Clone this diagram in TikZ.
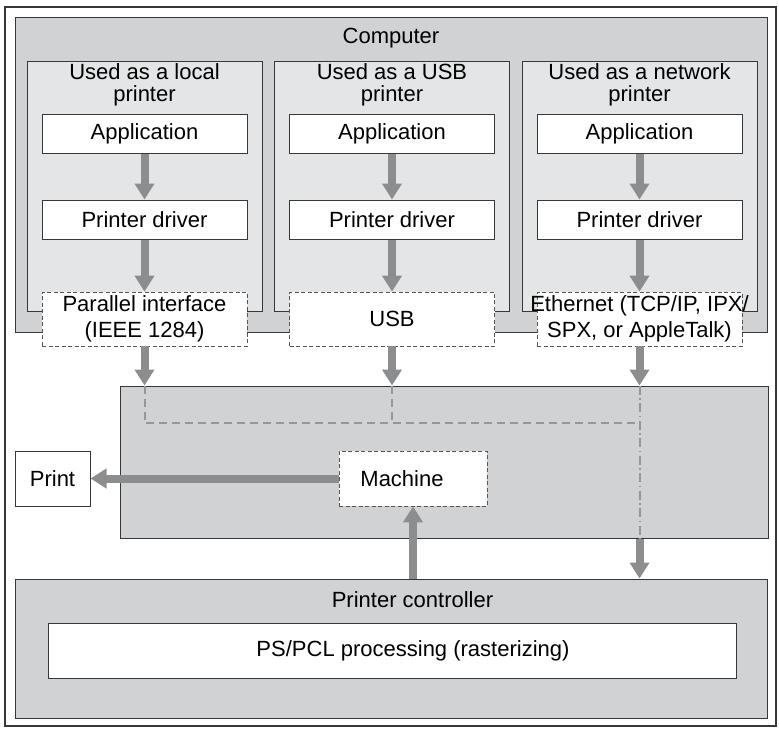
\documentclass[tikz,border=0pt]{standalone}
\usepackage{fontspec}
\setmainfont{Liberation Sans}
\usepackage{xcolor}
\usetikzlibrary{arrows.meta}
\definecolor{paneGray}{RGB}{209,210,212}
\definecolor{colGray}{RGB}{228,229,230}
\definecolor{flowGray}{RGB}{140,141,143}
\definecolor{edgeGray}{RGB}{55,55,55}
\definecolor{busGray}{RGB}{150,151,153}

\begin{document}
\begin{tikzpicture}[x=1pt, y=-1pt,
    font=\fontsize{22}{26}\selectfont,
    pane/.style={draw=edgeGray, line width=1pt, fill=paneGray, rectangle, inner sep=0pt},
    colpane/.style={draw=edgeGray, line width=1pt, fill=colGray, rectangle, inner sep=0pt, minimum width=235pt, minimum height=250pt},
    coltitle/.style={anchor=north, inner sep=0pt, align=center, font=\fontsize{22}{22}\selectfont},
    whitebox/.style={draw=edgeGray, line width=1pt, fill=white, rectangle, inner sep=0pt, minimum width=205pt, minimum height=39pt},
    ifacebox/.style={draw=edgeGray!85, line width=0.8pt, dash pattern=on 4pt off 2.5pt, fill=white, rectangle, inner sep=0pt, inner xsep=-10pt, minimum width=205pt, minimum height=54pt, align=center},
    flow/.style={draw=flowGray, line width=8pt, -{Triangle[length=16pt, width=19pt]}},
    bus/.style={draw=busGray, line width=2pt, dash pattern=on 8pt off 5pt},
    busdot/.style={draw=busGray, line width=2pt, dash pattern=on 9pt off 3.5pt on 1.5pt off 3.5pt}]
  \useasboundingbox (0,0) rectangle (779,729);

  % Outer frame
  \node[draw=edgeGray, line width=1.2pt, rectangle, inner sep=0pt, minimum width=771pt, minimum height=719pt] (frame) at (390.5,366.5) {};

  % Computer with its three ways of use
  \node[pane, minimum width=752pt, minimum height=315pt] (computer) at (391,174.5) {};
  \node (computerlabel) at (391,38) {Computer};

  \node[colpane] (localcol) at (144.5,186) {};
  \node[colpane] (usbcol) at (392,186) {};
  \node[colpane] (netcol) at (639.5,186) {};

  \node[coltitle] (localtitle) at (144.5,63) {Used as a local\\printer};
  \node[coltitle] (usbtitle) at (392,63) {Used as a USB\\printer};
  \node[coltitle] (nettitle) at (639.5,63) {Used as a network\\printer};

  % Application level
  \node[whitebox] (localapp) at (144.5,133.5) {Application};
  \node[whitebox] (usbapp) at (392,133.5) {Application};
  \node[whitebox] (netapp) at (639.5,133.5) {Application};

  % Driver level
  \node[whitebox] (localdrv) at (144.5,219.5) {Printer driver};
  \node[whitebox] (usbdrv) at (392,219.5) {Printer driver};
  \node[whitebox] (netdrv) at (639.5,219.5) {Printer driver};

  % Interfaces
  \node[ifacebox] (localif) at (144.5,319) {Parallel interface\\(IEEE 1284)};
  \node[ifacebox] (usbif) at (392,319) {USB};
  \node[ifacebox] (netif) at (639.5,319) {Ethernet (TCP/IP, IPX/\\SPX, or AppleTalk)};

  % Machine side
  \node[pane, minimum width=648pt, minimum height=152pt] (device) at (444,462) {};
  \coordinate (busline) at (0,423);
  \draw[bus] (localif |- device.north) -- (localif |- busline) -- (netif |- busline);
  \draw[bus] (usbif |- device.north) -- (usbif |- busline);
  \draw[busdot] (netif |- device.north) -- (netif |- device.south);
  \node[ifacebox, inner xsep=0pt, minimum width=148pt, minimum height=55pt] (machine) at (413,478.5) {Machine\hspace*{22pt}};
  \node[whitebox, minimum width=75pt, minimum height=55pt] (print) at (52.5,478.5) {Print};

  % Printer controller
  \node[pane, minimum width=752pt, minimum height=139pt] (controller) at (391,648.5) {};
  \node (controllerlabel) at (412.5,600) {Printer controller};
  \node[whitebox, minimum width=688pt, minimum height=55pt] (raster) at (392,650.5) {\hspace*{42pt}\raisebox{3pt}{PS/PCL processing (rasterizing)}};

  % Arrows
  \draw[flow] (localapp) -- (localdrv);
  \draw[flow] (usbapp) -- (usbdrv);
  \draw[flow] (netapp) -- (netdrv);
  \draw[flow] (localdrv) -- (localif);
  \draw[flow] (usbdrv) -- (usbif);
  \draw[flow] (netdrv) -- (netif);
  \draw[flow] (localif) -- (localif |- device.north);
  \draw[flow] (usbif) -- (usbif |- device.north);
  \draw[flow] (netif) -- (netif |- device.north);
  \draw[flow] (machine) -- (print);
  \draw[flow] (controller.north -| machine) -- (machine);
  \draw[flow] (netif |- device.south) -- (netif |- controller.north);
\end{tikzpicture}
\end{document}
